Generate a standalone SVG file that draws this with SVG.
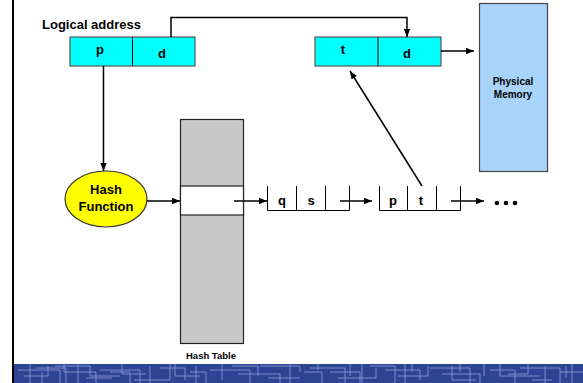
<svg xmlns="http://www.w3.org/2000/svg" width="583" height="383" viewBox="0 0 583 383">
  <defs>
    <marker id="arr" viewBox="0 0 10 10" refX="10" refY="5" markerWidth="8" markerHeight="8" markerUnits="userSpaceOnUse" orient="auto">
      <path d="M0,1 L10,5 L0,9 z" fill="#000"/>
    </marker>
    <style>
      text { font-family: "Liberation Sans", Arial, sans-serif; font-weight: bold; fill: #000; }
      .lbl { font-size: 13px; text-anchor: middle; }
      .cell { fill: #00ffff; stroke: #555; stroke-width: 1.2; }
      .div { stroke: #000; stroke-width: 1; }
      .conn { fill: none; stroke: #000; stroke-width: 1.5; }
      .node { fill: none; stroke: #000; stroke-width: 1; }
      .pat { fill: none; stroke: #8f9fd6; stroke-width: 1; opacity: 0.8; }
    </style>
  </defs>

  <rect width="583" height="383" fill="#fff"/>

  <!-- bottom decorative band -->
  <g id="band">
    <rect x="13" y="364" width="570" height="19" fill="#2d4394"/>
    <path class="pat" d="M18,370 H60 V383 M30,364 V383 M36,368 H66 V383 M42,372 V383 M55,366 H90 V376 H120 M78,364 V383 M100,370 H140 V383 M110,372 H130 V383 M150,366 V383 M160,368 H185 V380 M175,364 V376 H200 M210,370 H250 V383 M222,364 V380 M238,374 H280 V383 M260,366 H300 V372 M290,364 V383 M310,368 H345 V383 M330,372 H360 V383 M350,364 V376 M370,366 H395 V383 M385,370 H420 V380 M405,364 V383 M430,368 H470 V383 M442,374 H480 V383 M460,364 V372 M490,370 H515 V383 M500,364 V376 H540 M520,368 H560 V383 M545,366 V383 M560,372 H583 M572,364 V383"/>
    <path class="pat" d="M24,376 H48 V366 M64,364 V372 H96 V383 M86,378 H112 M122,364 V374 H146 M134,380 H170 V364 M190,372 H206 V383 M196,366 V383 M232,366 H258 V376 M268,378 H300 M304,372 H322 V383 M318,364 V370 M338,378 H376 V368 M362,364 V383 M398,376 H428 V366 M412,364 V372 M452,366 V380 H476 M484,364 V376 M508,374 H528 V364 M532,380 H552 M566,366 V378"/>
  </g>

  <!-- left border -->
  <line x1="13" y1="0" x2="13" y2="383" stroke="#000" stroke-width="2"/>

  <!-- logical address -->
  <g id="logical-address">
    <text x="42" y="29" font-size="13">Logical address</text>
    <rect class="cell" x="70" y="37" width="125" height="29"/>
    <line class="div" x1="132.5" y1="37" x2="132.5" y2="66"/>
    <text class="lbl" x="100" y="54">p</text>
    <text class="lbl" x="162" y="58">d</text>
  </g>

  <!-- physical address -->
  <g id="physical-address">
    <rect class="cell" x="315" y="37" width="126" height="29"/>
    <line class="div" x1="378" y1="37" x2="378" y2="66"/>
    <text class="lbl" x="343" y="54">t</text>
    <text class="lbl" x="407" y="58">d</text>
  </g>

  <!-- physical memory -->
  <g id="physical-memory">
    <rect x="479.5" y="3.5" width="68" height="168" fill="#a8d3fb" stroke="#444" stroke-width="1.2"/>
    <text x="513" y="85" font-size="10" text-anchor="middle">Physical</text>
    <text x="513" y="98" font-size="10" text-anchor="middle">Memory</text>
  </g>

  <!-- hash function -->
  <g id="hash-function">
    <ellipse cx="106" cy="199" rx="41" ry="28" fill="#ffff00" stroke="#333" stroke-width="1.2"/>
    <text class="lbl" x="106" y="194">Hash</text>
    <text class="lbl" x="106" y="211">Function</text>
  </g>

  <!-- hash table -->
  <g id="hash-table">
    <rect x="180.5" y="119.5" width="63" height="224" fill="#c8c8c8" stroke="#222" stroke-width="1.2"/>
    <rect x="180.5" y="186" width="63" height="29" fill="#fff" stroke="#222" stroke-width="1.2"/>
    <text x="211" y="359" font-size="9.5" text-anchor="middle">Hash Table</text>
  </g>

  <!-- chain entry q|s -->
  <g id="entry-qs">
    <path class="node" d="M267.5,186 V210.5 H349.5 V186 M296.5,186 V210.5 M325.5,186 V210.5"/>
    <text class="lbl" x="282" y="205">q</text>
    <text class="lbl" x="311" y="205">s</text>
  </g>

  <!-- chain entry p|t -->
  <g id="entry-pt">
    <path class="node" d="M379.5,186 V210.5 H460.5 V186 M407.5,186 V210.5 M436.5,186 V210.5"/>
    <text class="lbl" x="393" y="205">p</text>
    <text class="lbl" x="421" y="205">t</text>
  </g>

  <!-- continuation -->
  <g id="more">
    <circle cx="497" cy="203" r="2.3" fill="#000"/>
    <circle cx="506" cy="203" r="2.3" fill="#000"/>
    <circle cx="515" cy="203" r="2.3" fill="#000"/>
  </g>

  <!-- connectors -->
  <g id="connectors">
    <polyline class="conn" points="171,37 171,17.5 407,17.5 407,37" marker-end="url(#arr)"/>
    <line class="conn" x1="441" y1="51" x2="474" y2="51" marker-end="url(#arr)"/>
    <line class="conn" x1="103.5" y1="66" x2="103.5" y2="171" marker-end="url(#arr)"/>
    <line class="conn" x1="147" y1="201" x2="180" y2="201" marker-end="url(#arr)"/>
    <line class="conn" x1="234" y1="201" x2="267" y2="201" marker-end="url(#arr)"/>
    <line class="conn" x1="340" y1="201" x2="372" y2="201" marker-end="url(#arr)"/>
    <line class="conn" x1="451" y1="201" x2="484" y2="201" marker-end="url(#arr)"/>
    <line class="conn" x1="422" y1="186" x2="350" y2="71" marker-end="url(#arr)"/>
  </g>
</svg>
